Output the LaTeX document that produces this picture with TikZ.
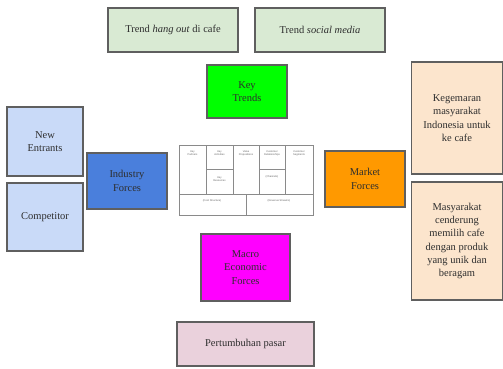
\documentclass[tikz,border=0pt]{standalone}
\usepackage{fontspec}
\setmainfont{Liberation Serif}
\newfontfamily\tinysans{Liberation Sans}
\definecolor{lgreen}{HTML}{D9EAD3}
\definecolor{kgreen}{HTML}{00FF00}
\definecolor{lblue}{HTML}{C9DAF8}
\definecolor{dblue}{HTML}{4A7FDC}
\definecolor{korange}{HTML}{FF9900}
\definecolor{peach}{HTML}{FCE5CD}
\definecolor{kmag}{HTML}{FF00FF}
\definecolor{lpink}{HTML}{EAD1DC}
\definecolor{bord}{HTML}{5F5F5F}
\definecolor{txt}{HTML}{2E2E2E}
\definecolor{cvline}{HTML}{8A8A8A}
\tikzset{
  box/.style={draw=bord, line width=1.2pt, rectangle, align=center, text=txt,
    font=\fontsize{10.5}{13.3}\selectfont, inner sep=2pt},
  cvlab/.style={font=\tinysans\fontsize{2.6}{3}\selectfont, text=black!60, align=center, inner sep=0pt},
  cv/.style={draw=cvline, line width=0.5pt}
}
\begin{document}
\begin{tikzpicture}[x=1pt,y=-1pt]
\useasboundingbox (0,0) rectangle (503,368);
% top trends
\node[box, fill=lgreen, minimum width=130pt, minimum height=44pt] (trend1) at (173,30) {Trend \textit{hang out} di cafe};
\node[box, fill=lgreen, minimum width=130pt, minimum height=44pt] (trend2) at (320,30) {Trend \textit{social media}};
\node[box, fill=kgreen, minimum width=80pt, minimum height=53pt] (keytrends) at (247,91.5) {Key\\Trends};
% left
\node[box, fill=lblue, minimum width=76pt, minimum height=69pt] (newent) at (45,141.5) {New\\Entrants};
\node[box, fill=lblue, minimum width=76pt, minimum height=68pt] (comp) at (45,217) {Competitor};
\node[box, fill=dblue, minimum width=80pt, minimum height=56pt] (industry) at (127,181) {Industry\\Forces};
% right
\node[box, fill=korange, minimum width=80pt, minimum height=56pt] (market) at (365,179) {Market\\Forces};
\node[box, fill=peach, minimum width=91pt, minimum height=112pt] (kegem) at (457,118) {Kegemaran\\masyarakat\\Indonesia untuk\\ke cafe};
\node[box, fill=peach, minimum width=91pt, minimum height=118pt] (masy) at (457,241) {Masyarakat\\cenderung\\memilih cafe\\dengan produk\\yang unik dan\\beragam};
% bottom
\node[box, fill=kmag, minimum width=89pt, minimum height=67pt] (macro) at (245.5,267.5) {Macro\\Economic\\Forces};
\node[box, fill=lpink, minimum width=137pt, minimum height=44pt] (pasar) at (245.5,344) {Pertumbuhan pasar};
% central canvas
\node[draw=cvline, line width=0.6pt, fill=white, minimum width=134pt, minimum height=70pt, inner sep=0pt] (canvas) at (246,180) {};
\coordinate (cvtl) at (179,145);
\draw[cv] (179,194) -- (313,194);
\draw[cv] (206,145) -- (206,194);
\draw[cv] (233,145) -- (233,194);
\draw[cv] (259,145) -- (259,194);
\draw[cv] (285,145) -- (285,194);
\draw[cv] (246,194) -- (246,215);
\draw[cv] (206,169) -- (233,169);
\draw[cv] (259,169) -- (285,169);
\node[cvlab] (kp) at (192.5,153) {Key\\Partners};
\node[cvlab] (ka) at (219.5,153) {Key\\Activities};
\node[cvlab] (kr) at (219.5,179) {Key\\Resources};
\node[cvlab] (vp) at (246,153) {Value\\Propositions};
\node[cvlab] (cr) at (272,153) {Customer\\Relationships};
\node[cvlab] (ch) at (272,177) {(Channels)};
\node[cvlab] (cs) at (299,153) {Customer\\Segments};
\node[cvlab] (cost) at (212,201) {(Cost Structure)};
\node[cvlab] (rev) at (279,201) {(Revenue Streams)};
\end{tikzpicture}
\end{document}
